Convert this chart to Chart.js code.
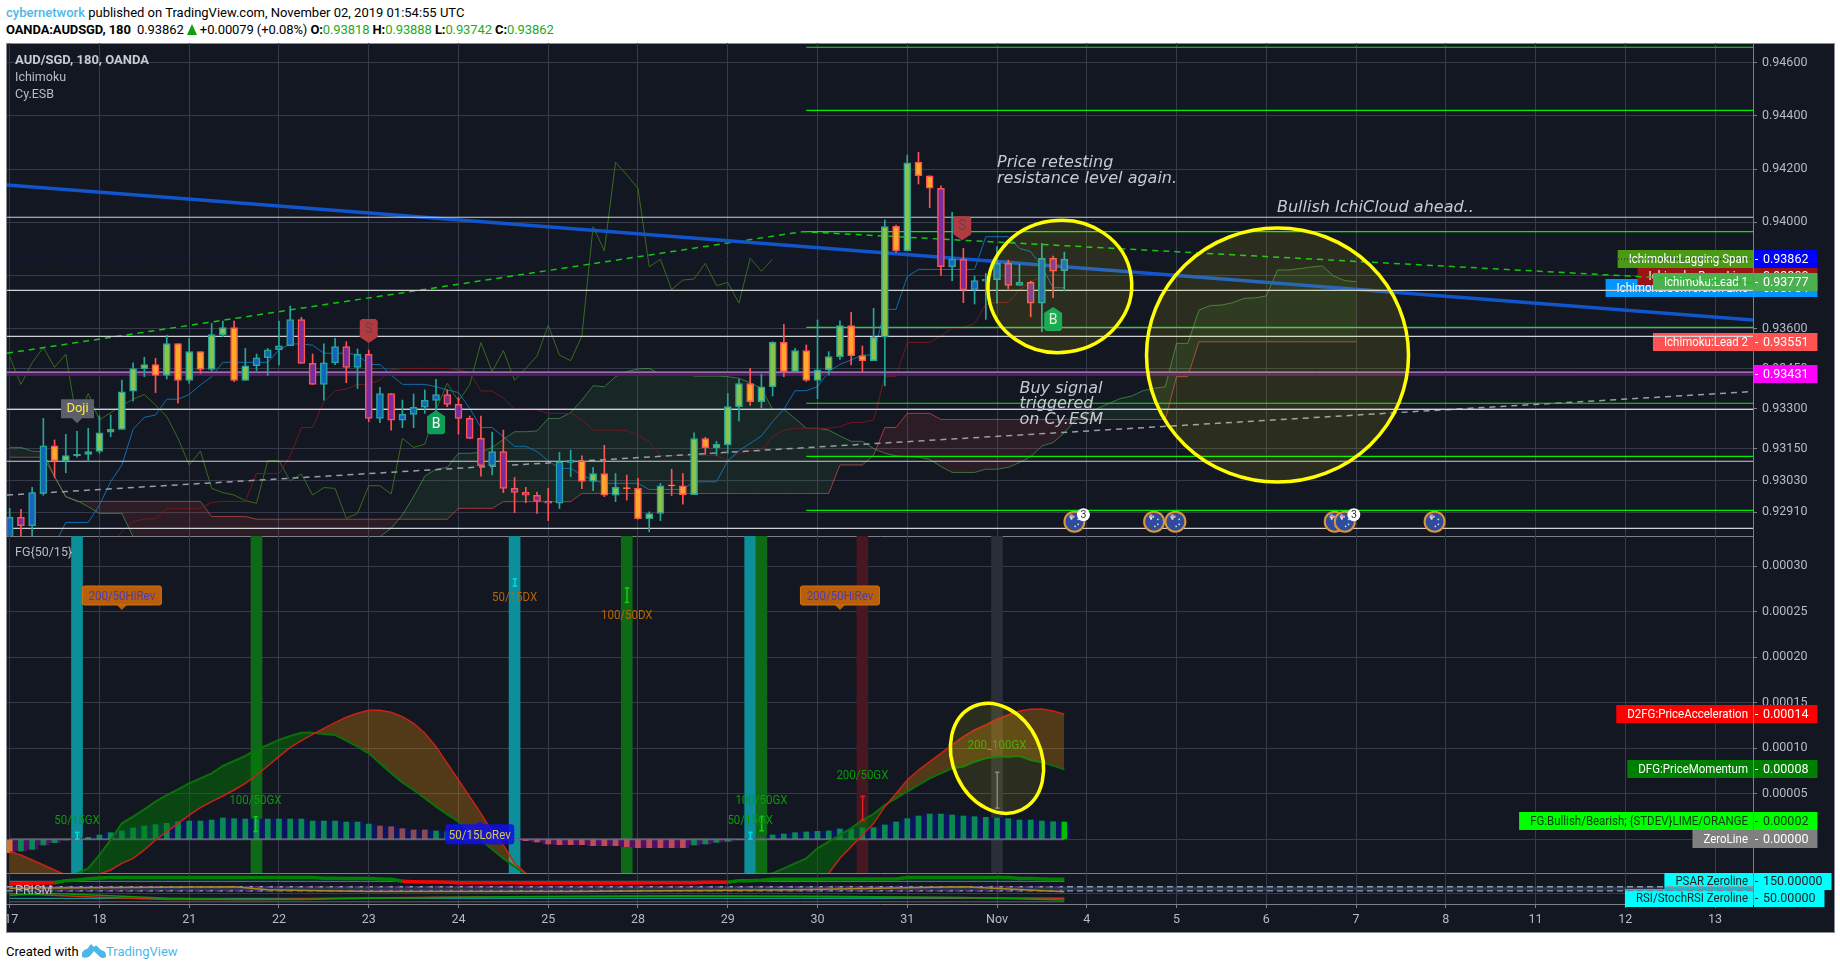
<!DOCTYPE html>
<html>
<head>
<meta charset="utf-8">
<title>AUD/SGD</title>
<script src="https://cdn.jsdelivr.net/npm/chart.js@4/dist/chart.umd.js"></script>
<style>
html, body { margin: 0; padding: 0; background: #fff; overflow: hidden; }
body { width: 1840px; height: 969px; position: relative; font-family: Roboto, sans-serif; color: #000; }
.line { position: absolute; left: 6px; font-size: 13px; white-space: nowrap; line-height: 16px; }
.blue { color: #4db8e8; }
.grn { color: #1faa1f; }
.up { display: inline-block; width: 0; height: 0; border-left: 5px solid transparent; border-right: 5px solid transparent; border-bottom: 11px solid #0fa00f; vertical-align: -1px; }
#frame { position: absolute; left: 6px; top: 43px; width: 1829px; height: 890px; box-sizing: border-box; background: #131722; border: 1px solid #8a8d96; }
canvas { position: absolute; left: 7px; }
#mainChart { top: 43px; }
#fgChart { top: 536px; }
#prismChart { top: 873px; }
#logo { position: absolute; left: 82px; top: 943px; }
</style>
</head>
<body>
<div class="line" style="top:5px"><span class="blue" style="font-weight:500">cybernetwork</span> published on TradingView.com, November 02, 2019 01:54:55 UTC</div>
<div class="line" style="top:22px; letter-spacing:-0.1px"><b>OANDA:AUDSGD, 180</b>&nbsp; 0.93862 <span class="up"></span> +0.00079 (+0.08%) <b>O:</b><span class="grn">0.93818</span> <b>H:</b><span class="grn">0.93888</span> <b>L:</b><span class="grn">0.93742</span> <b>C:</b><span class="grn">0.93862</span></div>
<div id="frame"></div>
<canvas id="mainChart" width="1827" height="494"></canvas>
<canvas id="fgChart" width="1827" height="338"></canvas>
<canvas id="prismChart" width="1827" height="59"></canvas>
<div class="line" style="top:944px">Created with</div>
<svg id="logo" width="24" height="16" viewBox="0 0 24 16"><path d="M0 14 L0 10 Q2 6 5 6 L9 1 L12 4 Q14 1 16 4 L19 7 Q24 8 24 12 L24 14 Q21 16 18 14 L12 8 L8 13 Q5 16 0 14 Z" fill="#4db8e8"/></svg>
<div class="line blue" style="top:944px; left:106px">TradingView</div>

<script>
// 3h bars, bar index on the x axis
var timeTicks = [0, 8, 16, 24, 32, 40, 48, 56, 64, 72, 80, 88, 96, 104, 112, 120, 128, 136, 144, 152]
var timeLabels = [' 17', '18', '21', '22', '23', '24', '25', '28', '29', '30', '31', 'Nov', '4', '5', '6', '7', '8', '11', '12', '13']

var priceTicks = [0.946, 0.944, 0.942, 0.94, 0.938, 0.936, 0.9345, 0.933, 0.9315, 0.9303, 0.9291]

// g, b = up candles, o, p = down candles
var candleKinds = ['b','p','b','b','o','g','g','g','g','g',
    'g','g','g','o','g','o','g','o','g','g',
    'o','g','b','b','b','b','p','p','b','b',
    'p','b','p','b','p','b','b','b','b','p',
    'p','p','p','b','p','p','p','p','p','b',
    'b','o','g','o','g','o','o','g','g','o',
    'o','g','o','g','g','g','o','g','g','o',
    'g','o','g','g','g','o','o','g','g','o',
    'g','o','o','p','b','p','b','b','b','p',
    'b','p','b','p','b']
var opens = [0.92793,0.92891,0.92860,0.92981,0.93160,0.93104,0.93123,0.93128,0.93139,0.93211,
    0.93222,0.93365,0.93450,0.93465,0.93425,0.93544,0.93406,0.93514,0.93447,0.93578,
    0.93604,0.93406,0.93461,0.93491,0.93521,0.93536,0.93634,0.93470,0.93391,0.93472,
    0.93533,0.93455,0.93504,0.93263,0.93356,0.93256,0.93278,0.93305,0.93331,0.93353,
    0.93316,0.93263,0.93188,0.93085,0.93138,0.93000,0.92985,0.92974,0.92951,0.92944,
    0.93098,0.93104,0.93026,0.93056,0.92974,0.93003,0.93000,0.92886,0.92906,0.93013,
    0.93010,0.92976,0.93187,0.93153,0.93164,0.93307,0.93394,0.93326,0.93382,0.93549,
    0.93439,0.93518,0.93406,0.93446,0.93495,0.93612,0.93499,0.93480,0.93568,0.93985,
    0.93893,0.94226,0.94175,0.94128,0.93833,0.93861,0.93746,0.93779,0.93784,0.93846,
    0.93763,0.93774,0.93696,0.93865,0.93818]
var highs = [0.92925,0.92921,0.93004,0.93263,0.93182,0.93203,0.93214,0.93226,0.93273,0.93276,
    0.93407,0.93472,0.93493,0.93489,0.93576,0.93544,0.93564,0.93514,0.93620,0.93629,
    0.93629,0.93526,0.93505,0.93526,0.93629,0.93685,0.93643,0.93505,0.93543,0.93564,
    0.93551,0.93524,0.93520,0.93380,0.93356,0.93332,0.93355,0.93370,0.93410,0.93370,
    0.93342,0.93272,0.93272,0.93212,0.93219,0.93041,0.93004,0.92986,0.93000,0.93135,
    0.93144,0.93122,0.93079,0.93162,0.93056,0.93050,0.93038,0.92912,0.93019,0.93072,
    0.93056,0.93209,0.93192,0.93177,0.93357,0.93410,0.93451,0.93429,0.93551,0.93617,
    0.93526,0.93539,0.93633,0.93514,0.93630,0.93662,0.93535,0.93677,0.94009,0.93990,
    0.94253,0.94263,0.94175,0.94137,0.94038,0.93902,0.93798,0.93808,0.93909,0.93858,
    0.93843,0.93779,0.93921,0.93873,0.93888]
var lows = [0.92770,0.92818,0.92818,0.92974,0.93041,0.93059,0.93117,0.93100,0.93132,0.93194,
    0.93222,0.93328,0.93420,0.93360,0.93411,0.93320,0.93395,0.93432,0.93442,0.93570,
    0.93401,0.93406,0.93442,0.93425,0.93464,0.93536,0.93470,0.93391,0.93332,0.93465,
    0.93397,0.93375,0.93251,0.93247,0.93219,0.93228,0.93228,0.93282,0.93282,0.93307,
    0.93204,0.93187,0.93046,0.93051,0.92984,0.92909,0.92946,0.92906,0.92879,0.92924,
    0.93044,0.92999,0.92991,0.92969,0.92950,0.92956,0.92884,0.92837,0.92879,0.92973,
    0.92941,0.92976,0.93128,0.93125,0.93132,0.93254,0.93312,0.93303,0.93347,0.93420,
    0.93439,0.93402,0.93337,0.93426,0.93485,0.93464,0.93437,0.93480,0.93385,0.93888,
    0.93893,0.94144,0.94055,0.93800,0.93781,0.93698,0.93693,0.93635,0.93696,0.93751,
    0.93763,0.93645,0.93589,0.93717,0.93742]
var closes = [0.92891,0.92860,0.92984,0.93160,0.93104,0.93123,0.93128,0.93138,0.93209,0.93222,
    0.93363,0.93450,0.93465,0.93425,0.93544,0.93406,0.93514,0.93447,0.93578,0.93604,
    0.93406,0.93461,0.93491,0.93521,0.93536,0.93634,0.93470,0.93391,0.93472,0.93533,
    0.93455,0.93504,0.93263,0.93356,0.93256,0.93278,0.93305,0.93331,0.93353,0.93316,
    0.93263,0.93188,0.93085,0.93138,0.93000,0.92985,0.92974,0.92951,0.92944,0.93100,
    0.93105,0.93026,0.93056,0.92974,0.93004,0.92999,0.92886,0.92905,0.93010,0.93009,
    0.92976,0.93187,0.93153,0.93166,0.93307,0.93394,0.93326,0.93382,0.93549,0.93439,
    0.93518,0.93406,0.93446,0.93495,0.93612,0.93499,0.93480,0.93568,0.93984,0.93893,
    0.94224,0.94175,0.94128,0.93833,0.93862,0.93746,0.93781,0.93786,0.93846,0.93763,
    0.93774,0.93696,0.93865,0.93816,0.93862]

var conversionLine = [null,null,null,0.92706,0.92787,0.92872,0.92872,0.92872,0.92937,0.93025,
    0.93088,0.93222,0.93267,0.93276,0.93335,0.93335,0.93353,0.93389,0.93420,0.93474,
    0.93474,0.93474,0.93474,0.93474,0.93520,0.93543,0.93543,0.93538,0.93508,0.93508,
    0.93508,0.93503,0.93466,0.93466,0.93426,0.93391,0.93391,0.93391,0.93382,0.93370,
    0.93360,0.93301,0.93229,0.93229,0.93194,0.93158,0.93158,0.93138,0.93104,0.93075,
    0.93075,0.93050,0.93031,0.93019,0.93019,0.93019,0.93019,0.92996,0.92996,0.92996,
    0.92996,0.93025,0.93025,0.93025,0.93104,0.93142,0.93169,0.93197,0.93251,0.93297,
    0.93367,0.93367,0.93382,0.93439,0.93466,0.93483,0.93501,0.93501,0.93673,0.93673,
    0.93796,0.93823,0.93823,0.93823,0.93823,0.93823,0.93823,0.93946,0.93946,0.93946,
    0.93902,0.93890,0.93833,0.93754,0.93754]
var baseLine = [null,null,null,null,null,null,null,null,null,0.92787,
    0.92837,0.92875,0.92885,0.92885,0.92925,0.92925,0.92925,0.92925,0.92947,0.92951,
    0.92951,0.92951,0.93056,0.93056,0.93056,0.93122,0.93229,0.93229,0.93326,0.93367,
    0.93373,0.93391,0.93391,0.93407,0.93445,0.93451,0.93451,0.93451,0.93451,0.93451,
    0.93445,0.93436,0.93366,0.93366,0.93338,0.93298,0.93298,0.93295,0.93282,0.93282,
    0.93282,0.93257,0.93219,0.93219,0.93219,0.93217,0.93201,0.93176,0.93123,0.93123,
    0.93123,0.93123,0.93123,0.93123,0.93104,0.93132,0.93142,0.93142,0.93194,0.93219,
    0.93226,0.93226,0.93226,0.93226,0.93232,0.93248,0.93248,0.93257,0.93420,0.93420,
    0.93548,0.93548,0.93548,0.93573,0.93602,0.93604,0.93620,0.93691,0.93699,0.93699,
    0.93746,0.93777,0.93796,0.93802,0.93800]
var laggingSpan = [0.93495,0.93391,0.93472,0.93530,0.93455,0.93504,0.93251,0.93357,0.93257,0.93285,
    0.93311,0.93335,0.93353,0.93313,0.93270,0.93188,0.93088,0.93140,0.93000,0.92984,
    0.92975,0.92954,0.92944,0.93104,0.93104,0.93028,0.93054,0.92975,0.93003,0.93000,
    0.92887,0.92906,0.93010,0.93010,0.92979,0.93188,0.93154,0.93166,0.93295,0.93395,
    0.93328,0.93389,0.93548,0.93439,0.93518,0.93406,0.93451,0.93498,0.93613,0.93501,
    0.93480,0.93573,0.93984,0.93893,0.94226,0.94178,0.94128,0.93833,0.93861,0.93748,
    0.93783,0.93787,0.93846,0.93762,0.93774,0.93696,0.93865,0.93816,0.93862]
var lead1 = [0.93154,0.93154,0.93140,0.93138,0.93044,0.92969,0.92954,0.92931,0.92906,0.92906,
    0.92906,0.92818,0.92750,0.92718,0.92693,0.92681,0.92681,0.92668,0.92668,0.92668,
    0.92668,0.92668,0.92668,0.92668,0.92681,0.92681,0.92681,0.92687,0.92693,0.92706,
    0.92718,0.92737,0.92762,0.92818,0.92850,0.92900,0.92969,0.93046,0.93072,0.93079,
    0.93132,0.93132,0.93135,0.93154,0.93184,0.93213,0.93213,0.93216,0.93263,0.93263,
    0.93285,0.93332,0.93386,0.93382,0.93420,0.93439,0.93449,0.93451,0.93430,0.93435,
    0.93435,0.93422,0.93422,0.93422,0.93420,0.93414,0.93397,0.93376,0.93297,0.93297,
    0.93263,0.93226,0.93226,0.93219,0.93197,0.93177,0.93177,0.93150,0.93132,0.93122,
    0.93119,0.93117,0.93109,0.93082,0.93060,0.93060,0.93060,0.93072,0.93072,0.93079,
    0.93097,0.93119,0.93159,0.93172,0.93209,0.93257,0.93280,0.93301,0.93320,0.93338,
    0.93347,0.93367,0.93376,0.93382,0.93545,0.93545,0.93670,0.93687,0.93689,0.93698,
    0.93714,0.93716,0.93723,0.93821,0.93821,0.93826,0.93832,0.93836,0.93798,0.93781,
    0.93777]
var lead2 = [0.93117,0.93117,0.93117,0.93117,0.93044,0.92969,0.92951,0.92951,0.92951,0.92951,
    0.92951,0.92951,0.92951,0.92951,0.92951,0.92951,0.92951,0.92951,0.92894,0.92894,
    0.92894,0.92894,0.92884,0.92884,0.92884,0.92884,0.92884,0.92884,0.92884,0.92884,
    0.92884,0.92884,0.92884,0.92884,0.92884,0.92884,0.92884,0.92884,0.92884,0.92884,
    0.92925,0.92925,0.92925,0.92925,0.92950,0.92950,0.92950,0.92950,0.92950,0.92950,
    0.92950,0.92981,0.92981,0.92981,0.92981,0.92981,0.92981,0.92981,0.92981,0.92981,
    0.92981,0.92981,0.92981,0.92981,0.92981,0.92981,0.92981,0.92981,0.92981,0.92981,
    0.92981,0.92981,0.92981,0.92981,0.93088,0.93088,0.93088,0.93125,0.93229,0.93229,
    0.93282,0.93282,0.93282,0.93259,0.93259,0.93259,0.93259,0.93259,0.93259,0.93259,
    0.93259,0.93259,0.93259,0.93259,0.93259,0.93259,0.93259,0.93259,0.93259,0.93259,
    0.93259,0.93259,0.93259,0.93259,0.93420,0.93420,0.93551,0.93551,0.93551,0.93551,
    0.93551,0.93551,0.93551,0.93551,0.93551,0.93551,0.93551,0.93551,0.93551,0.93551,
    0.93551]

// drawings on the price pane, two ends each (bar index, price)
var blueTrendX = [-0.24, 155.38]
var blueTrendY = [0.94140, 0.93633]
var greenDashX = [-0.24, 70.66, 155.38]
var greenDashY = [0.93508, 0.93965, 0.93773]
var greyDashX = [-0.24, 155.0]
var greyDashY = [0.92975, 0.93363]
var whiteLevels = [0.94019, 0.93744, 0.93571, 0.93297, 0.93102, 0.92850]
var greenLevels = [0.94658, 0.94421, 0.93965, 0.93605, 0.93320, 0.93120, 0.92917]
var greenLevelsFrom = 71
var magentaLevel = 0.93431
var lastPrice = 0.93862

// FG pane, all values in units of 0.00001
var fgTicks = [30, 25, 20, 15, 10, 5, 0]
var fgTickLabels = ['0.00030', '0.00025', '0.00020', '0.00015', '0.00010', '0.00005', '0.00000']
var fgHist = [-1.47,-1.28,-1.10,-0.62,-0.37,-0.07,0.02,0.22,0.48,0.73,
    0.92,1.25,1.47,1.61,1.76,1.94,2.01,2.01,2.12,2.34,
    2.27,2.23,2.23,2.23,2.23,2.23,2.23,2.01,2.01,2.01,
    1.90,1.90,1.68,1.47,1.39,1.17,1.03,1.03,0.92,0.84,
    0.73,0.66,0.48,0.29,0.11,0.02,-0.15,-0.29,-0.51,-0.59,
    -0.59,-0.59,-0.70,-0.70,-0.70,-0.81,-0.92,-0.92,-0.92,-0.92,
    -0.92,-0.62,-0.51,-0.33,-0.22,-0.02,0.02,0.07,0.48,0.59,
    0.73,0.81,0.88,0.92,1.14,1.14,1.25,1.28,1.58,1.90,
    2.27,2.56,2.78,2.78,2.67,2.56,2.49,2.42,2.34,2.27,
    2.12,2.12,2.01,1.94,1.90]
var fgHistFalling = [33, 34, 35, 36, 37, 46, 47, 48, 49, 50, 51, 52, 53, 54, 55, 56, 57, 58, 59, 60]
var dfg = [-4.5,-5,-5.5,-5.5,-5.2,-4.5,-3.74,-3.19,-1.72,-0.07,
    1.76,2.49,3.30,4.14,4.87,5.49,6.15,6.7,7.25,8.06,
    8.61,9.16,9.89,10.37,10.92,11.36,11.72,11.72,11.58,11.47,
    10.84,10.18,9.45,8.35,7.25,6.26,5.42,4.51,3.59,2.75,
    1.94,0.92,-0.07,-1.10,-2.09,-3.0,-3.81,-4.5,-5,-5.5,
    -6,-6.3,-6.5,-6.7,-6.8,-6.8,-6.7,-6.5,-6.3,-6,
    -5.7,-5.4,-5.1,-4.8,-4.5,-4.2,-4,-3.9,-3.74,-3.19,
    -2.64,-2.09,-0.99,-0.26,0.48,1.21,2.12,2.78,3.77,4.51,
    5.24,5.97,6.7,7.25,7.8,7.99,8.53,8.9,9.08,9.08,
    9.16,8.72,8.46,8.1,7.69]
var d2fg = [-1.36,-1.72,-2.27,-2.82,-3.37,-3.92,-4.29,-4.29,-3.81,-3.37,
    -2.64,-2.09,-1.17,-0.07,0.84,1.76,2.67,3.48,4.14,4.76,
    5.42,6.15,7.07,8.06,9.08,10.11,10.84,11.54,12.2,12.82,
    13.41,13.85,14.18,14.18,13.96,13.48,12.75,11.65,10.18,8.35,
    6.52,4.69,2.86,0.84,-0.62,-2.64,-3.74,-5,-6,-7,
    -8,-8.5,-9,-9.5,-10,-10,-10.5,-10.5,-10.5,-10,
    -10,-9.5,-9,-8.5,-8,-7.5,-7,-6.5,-6,-5.5,
    -5,-4.5,-4,-3.74,-2.09,-0.81,0.48,1.76,3.59,5.05,
    6.52,7.62,8.53,9.45,10.37,11.28,12.01,12.56,13.19,13.66,
    14.1,14.29,14.32,14.1,13.74]

// cross signals shown as full height columns in the FG pane
var signalBars = [6, 22, 45, 55, 66, 67, 76, 88]
var signalKinds = ['teal', 'green', 'teal', 'green', 'teal', 'green', 'red', 'grey']
var markerBars = [6, 21.9, 45, 55, 66, 67, 76, 88]
var markerLows = [0, 0.84, 27.8, 26.0, 0, 0.92, 2.05, 3.4]
var markerHighs = [0.84, 2.56, 28.7, 27.7, 0.84, 2.56, 4.8, 7.44]
var markerKinds = ['teal', 'green', 'teal', 'green', 'teal', 'green', 'red', 'grey']

// PRISM pane
var psar = [134,136,138,140,142,154,158,165,170,172,
    172,172,172,172,172,172,172,172,172,172,
    172,172,172,172,172,172,172,172,168,168,
    166,166,166,164,162,150,148,146,146,144,
    142,142,142,142,142,142,140,140,140,140,
    140,140,140,140,140,140,140,142,142,142,
    142,142,144,144,144,154,154,156,162,162,
    162,162,162,164,164,164,164,164,164,164,
    172,172,172,172,172,172,172,172,172,172,
    166,166,164,162,162]
var psarRedFrom = [0, 35]
var psarRedTo = [4, 64]
var prismLevels = [150, 50]
var prismDashLevels = [118, 95]
var prismTick = [80]
var prismOrangeX = [0, 10, 20, 23, 32, 50, 70, 85, 94]
var prismOrangeY = [110, 114, 118, 100, 90, 90, 100, 118, 89]
var prismRedX = [0, 8, 14, 23, 29, 44, 60, 80, 94]
var prismRedY = [79, 56, 44, 44, 50, 60, 65, 55, 50]
var prismGreenX = [0, 4, 8, 14, 20, 26, 32, 44, 60, 72, 85, 94]
var prismGreenY = [69, 79, 69, 50, 44, 44, 50, 59, 62, 62, 55, 40]
var prismGreyLevel = 30

var candleFill = { g: '#8bc34a', b: '#1565c0', o: '#ffa726', p: '#7b2d9b' }
var candleLine = { g: '#26a69a', b: '#26a69a', o: '#ff5252', p: '#ff5252' }
var signalFill = { teal: '#0c8f99', green: '#0f6a18', red: '#471821', grey: '#2a2e39' }
var markerFill = { teal: '#00d8e0', green: '#10d010', red: '#e02020', grey: '#787b86' }

var GRID = '#363a4a'
var AXIS = '#7d8087'
var TICK_TEXT = '#b8bbc4'
var FONT = 'Roboto, sans-serif'
var X_MIN = -0.24
var X_MAX = 155.38

function pts(values) {
    return values.map(function (v, i) { return { x: i, y: v } })
}

function pairs(xs, ys) {
    return xs.map(function (x, i) { return { x: x, y: ys[i] } })
}

function xAxis(showLabels) {
    return {
        type: 'linear',
        min: X_MIN,
        max: X_MAX,
        offset: false,
        afterBuildTicks: function (axis) {
            axis.ticks = timeTicks.map(function (v) { return { value: v } })
        },
        afterFit: function (axis) {
            axis.paddingLeft = 0
            axis.paddingRight = 0
            axis.height = showLabels ? 28 : 0
        },
        grid: { color: GRID, offset: false, drawTicks: showLabels, tickLength: 4, tickColor: AXIS },
        border: { display: true, color: AXIS },
        ticks: {
            display: showLabels,
            autoSkip: false,
            maxRotation: 0,
            minRotation: 0,
            padding: 4,
            color: TICK_TEXT,
            font: { family: FONT, size: 12.5 },
            callback: function (v) { return timeLabels[timeTicks.indexOf(v)] }
        }
    }
}

function yAxis(min, max, tickList, labelFn, showLabels) {
    return {
        position: 'right',
        min: min,
        max: max,
        afterBuildTicks: function (axis) {
            axis.ticks = tickList.map(function (v) { return { value: v } })
        },
        afterFit: function (axis) {
            axis.width = 81
            axis.paddingTop = 0
            axis.paddingBottom = 0
        },
        grid: { color: GRID, tickLength: 4, tickColor: AXIS },
        border: { display: true, color: AXIS },
        ticks: {
            display: showLabels,
            autoSkip: false,
            padding: 5,
            color: TICK_TEXT,
            font: { family: FONT, size: 12.5 },
            callback: labelFn
        }
    }
}

function baseOptions(bottomPad, xShow, yCfg) {
    return {
        responsive: false,
        animation: false,
        devicePixelRatio: 1,
        layout: { padding: { left: 0, right: 0, top: 0, bottom: bottomPad } },
        plugins: { legend: { display: false }, tooltip: { enabled: false } },
        elements: { point: { radius: 0 }, line: { tension: 0 } },
        scales: { x: xAxis(xShow), y: yCfg }
    }
}

function lineSet(data, color, width, order, extra) {
    var d = { type: 'line', data: data, borderColor: color, borderWidth: width, pointRadius: 0, fill: false, order: order }
    for (var k in extra) d[k] = extra[k]
    return d
}

// site font is narrower than Roboto, so squeeze the text a bit
function narrowText(ctx, text, x, y, squeeze) {
    ctx.fillText(text, x, y, ctx.measureText(text).width * (squeeze || 0.85))
}

// right side name + value tags, drawn under the lines like on the site
function drawTag(chart, value, name, valueText, bg, fg, valueBg) {
    var ctx = chart.ctx
    var right = chart.chartArea.right
    var y = Math.round(chart.scales.y.getPixelForValue(value))
    ctx.save()
    ctx.textBaseline = 'middle'
    if (name) {
        ctx.font = '13.5px ' + FONT
        var w = ctx.measureText(name).width * 0.85
        ctx.fillStyle = bg
        ctx.fillRect(right - w - 16, y - 9, w + 16, 18)
        ctx.fillStyle = fg
        ctx.textAlign = 'right'
        narrowText(ctx, name, right - 5, y + 1)
    }
    ctx.font = '12.5px ' + FONT
    var vw = ctx.measureText(valueText).width
    ctx.fillStyle = valueBg || bg
    ctx.fillRect(right + 1, y - 9, vw + 18, 18)
    ctx.fillStyle = fg
    ctx.fillRect(right + 2, y, 3, 1)
    ctx.textAlign = 'left'
    ctx.fillText(valueText, right + 10, y + 1)
    ctx.restore()
}

function paneText(ctx, text, x, y, font, color) {
    ctx.save()
    ctx.font = font
    ctx.fillStyle = color
    ctx.textBaseline = 'middle'
    ctx.textAlign = 'left'
    ctx.fillText(text, x, y)
    ctx.restore()
}

function note(chart, text, bar, price) {
    var ctx = chart.ctx
    ctx.save()
    ctx.font = 'italic 16px "DejaVu Sans", sans-serif'
    ctx.fillStyle = '#c6cad1'
    ctx.textBaseline = 'alphabetic'
    ctx.fillText(text, chart.scales.x.getPixelForValue(bar), chart.scales.y.getPixelForValue(price))
    ctx.restore()
}

function ellipse(chart, bar, val, rx, ry, rot) {
    var ctx = chart.ctx
    ctx.save()
    ctx.beginPath()
    ctx.ellipse(chart.scales.x.getPixelForValue(bar), chart.scales.y.getPixelForValue(val), rx, ry, rot * Math.PI / 180, 0, Math.PI * 2)
    ctx.fillStyle = 'rgba(255,255,0,0.1)'
    ctx.fill()
    ctx.lineWidth = 3.5
    ctx.strokeStyle = '#ffff00'
    ctx.stroke()
    ctx.restore()
}

// S / B shields, dir 1 points down at the anchor, -1 points up
function shield(chart, bar, price, dir, color, letter, letterColor) {
    var ctx = chart.ctx
    var x = chart.scales.x.getPixelForValue(bar)
    var y = chart.scales.y.getPixelForValue(price)
    ctx.save()
    ctx.beginPath()
    ctx.moveTo(x, y)
    ctx.lineTo(x + 9, y - dir * 6)
    ctx.lineTo(x + 9, y - dir * 22)
    ctx.lineTo(x + 7, y - dir * 24)
    ctx.lineTo(x - 7, y - dir * 24)
    ctx.lineTo(x - 9, y - dir * 22)
    ctx.lineTo(x - 9, y - dir * 6)
    ctx.closePath()
    ctx.fillStyle = color
    ctx.fill()
    ctx.font = '14px ' + FONT
    ctx.fillStyle = letterColor
    ctx.textAlign = 'center'
    ctx.textBaseline = 'middle'
    ctx.fillText(letter, x, y - dir * 14)
    ctx.restore()
}

function doji(chart, bar, price) {
    var ctx = chart.ctx
    var x = chart.scales.x.getPixelForValue(bar)
    var y = chart.scales.y.getPixelForValue(price)
    ctx.save()
    ctx.fillStyle = '#5d606b'
    ctx.beginPath()
    ctx.moveTo(x, y)
    ctx.lineTo(x + 5, y - 5)
    ctx.lineTo(x + 17, y - 5)
    ctx.lineTo(x + 17, y - 24)
    ctx.lineTo(x - 16, y - 24)
    ctx.lineTo(x - 16, y - 5)
    ctx.lineTo(x - 5, y - 5)
    ctx.closePath()
    ctx.fill()
    ctx.font = '13px ' + FONT
    ctx.fillStyle = '#ffeb3b'
    ctx.textAlign = 'center'
    ctx.textBaseline = 'middle'
    ctx.fillText('Doji', x + 0.5, y - 14)
    ctx.restore()
}

function eventIcon(chart, bar, price, count) {
    var ctx = chart.ctx
    var x = chart.scales.x.getPixelForValue(bar)
    var y = chart.scales.y.getPixelForValue(price)
    ctx.save()
    ctx.beginPath()
    ctx.arc(x, y, 10, 0, Math.PI * 2)
    ctx.fillStyle = '#2f4c9c'
    ctx.fill()
    ctx.lineWidth = 2
    ctx.strokeStyle = '#d9963a'
    ctx.stroke()
    ctx.fillStyle = '#e8dfe8'
    ctx.fillRect(x - 5, y - 6, 5, 2)
    ctx.fillRect(x - 4, y - 7, 2, 5)
    ctx.fillStyle = '#d84a55'
    ctx.fillRect(x - 4, y - 6, 3, 1)
    ctx.fillStyle = '#e8dfe8'
    ctx.fillRect(x + 3, y + 2, 1.5, 1.5)
    ctx.fillRect(x, y + 4, 1.5, 1.5)
    ctx.fillRect(x + 3, y - 3, 1.5, 1.5)
    if (count) {
        ctx.beginPath()
        ctx.arc(x + 9, y - 7, 6.5, 0, Math.PI * 2)
        ctx.fillStyle = '#fff'
        ctx.fill()
        ctx.font = '10.5px ' + FONT
        ctx.fillStyle = '#333'
        ctx.textAlign = 'center'
        ctx.textBaseline = 'middle'
        ctx.fillText(count, x + 9, y - 6.5)
    }
    ctx.restore()
}

function bubble(chart, text, bar, val, dir, w, bg, border, fg) {
    // anchor is the tip of the little arrow, box sits on the far side of it
    var ctx = chart.ctx
    var x = chart.scales.x.getPixelForValue(bar)
    var y = chart.scales.y.getPixelForValue(val)
    var h = 19
    var top = dir > 0 ? y - 5 - h : y + 3
    ctx.save()
    ctx.fillStyle = bg
    ctx.beginPath()
    ctx.moveTo(x, y)
    ctx.lineTo(x + 5, dir > 0 ? top + h : top)
    ctx.lineTo(x - 5, dir > 0 ? top + h : top)
    ctx.closePath()
    ctx.fill()
    ctx.beginPath()
    ctx.roundRect(x - w / 2, top, w, h, 2)
    ctx.fill()
    ctx.lineWidth = 1
    ctx.strokeStyle = border
    ctx.stroke()
    ctx.font = '13.5px ' + FONT
    ctx.fillStyle = fg
    ctx.textAlign = 'center'
    ctx.textBaseline = 'middle'
    narrowText(ctx, text, x, top + h / 2 + 1)
    ctx.restore()
}

function signalText(chart, text, bar, val, color) {
    var ctx = chart.ctx
    ctx.save()
    ctx.font = '13.5px ' + FONT
    ctx.fillStyle = color
    ctx.textAlign = 'center'
    ctx.textBaseline = 'middle'
    narrowText(ctx, text, chart.scales.x.getPixelForValue(bar), chart.scales.y.getPixelForValue(val))
    ctx.restore()
}

var candleBars = opens.map(function (o, i) { return { x: i, y: [o, closes[i]] } })
var wickBars = highs.map(function (h, i) { return { x: i, y: [lows[i], h] } })

var mainSets = [
    // cloud first, index 0 and 1 are used by the fill
    lineSet(pts(lead1), 'rgba(76,175,80,0.6)', 1, 20, {
        fill: { target: 1, above: 'rgba(76,175,80,0.1)', below: 'rgba(255,82,82,0.1)' }
    }),
    lineSet(pts(lead2), 'rgba(255,82,82,0.6)', 1, 21),
    lineSet(pts(laggingSpan), '#3a6b1f', 1, 18),
    lineSet(pts(baseLine), '#701a1f', 1, 17),
    lineSet(pts(conversionLine), '#0f6fb0', 1, 16),
    // candles sit on top of the drawings
    {
        type: 'bar', data: wickBars, barThickness: 1, grouped: false, order: 2,
        backgroundColor: candleKinds.map(function (k) { return candleLine[k] })
    },
    {
        type: 'bar', data: candleBars, barThickness: 7, grouped: false, order: 1, borderSkipped: false,
        borderWidth: 1.5,
        borderColor: candleKinds.map(function (k) { return candleLine[k] }),
        backgroundColor: candleKinds.map(function (k) { return candleFill[k] })
    },
    lineSet(pairs([X_MIN, X_MAX], [lastPrice, lastPrice]), '#13137a', 1, 9, { borderDash: [1, 2] }),
    lineSet(pairs(greyDashX, greyDashY), '#9a9da5', 1.5, 8, { borderDash: [6, 5] }),
    lineSet(pairs(greenDashX, greenDashY), '#0fc80f', 1.5, 8, { borderDash: [6, 5] }),
    lineSet(pairs(blueTrendX, blueTrendY), '#1155cc', 3.5, 7),
    lineSet(pairs([X_MIN, X_MAX], [magentaLevel, magentaLevel]), '#4f1a66', 4.5, 7),
    lineSet(pairs([X_MIN, X_MAX], [magentaLevel + 0.00006, magentaLevel + 0.00006]), '#d0a8d6', 1, 6)
]
whiteLevels.forEach(function (v) {
    mainSets.push(lineSet(pairs([X_MIN, X_MAX], [v, v]), '#d0d2d6', 1.2, 6))
})
greenLevels.forEach(function (v) {
    mainSets.push(lineSet(pairs([greenLevelsFrom, X_MAX], [v, v]), '#00f000', 1.2, 6))
})

var mainPlugin = {
    id: 'mainDrawings',
    beforeDatasetsDraw: function (chart) {
        drawTag(chart, 0.93754, 'Ichimoku:Conversion Line', '0.93754', '#0496ff', '#fff')
        drawTag(chart, 0.93800, 'Ichimoku:Base Line', '0.93800', '#991515', '#fff')
        drawTag(chart, 0.93862, 'Ichimoku:Lagging Span', '0.93862', '#4a9a14', '#fff', '#0000ff')
        drawTag(chart, 0.93551, 'Ichimoku:Lead 2', '0.93551', '#ff5252', '#fff')
        drawTag(chart, 0.93777, 'Ichimoku:Lead 1', '0.93777', '#4caf50', '#fff')
        drawTag(chart, 0.93431, null, '0.93431', '#ff00ff', '#fff')
    },
    afterDatasetsDraw: function (chart) {
        var ctx = chart.ctx
        paneText(ctx, 'AUD/SGD, 180, OANDA', 8, 18, 'bold 13px ' + FONT, '#c5cbce')
        paneText(ctx, 'Ichimoku', 8, 35, '12.5px ' + FONT, '#b8bbc4')
        paneText(ctx, 'Cy.ESB', 8, 52, '12.5px ' + FONT, '#b8bbc4')

        ellipse(chart, 93.6, 0.93759, 72, 66, -8)
        ellipse(chart, 113, 0.93501, 131, 127, 0)

        note(chart, 'Price retesting', 88, 0.94209)
        note(chart, 'resistance level again.', 88, 0.94148)
        note(chart, 'Bullish IchiCloud ahead..', 112.95, 0.94039)
        note(chart, 'Buy signal', 90, 0.9336)
        note(chart, 'triggered', 90, 0.93302)
        note(chart, 'on Cy.ESM', 90, 0.93241)

        shield(chart, 32, 0.93546, 1, '#b23b3f', 'S', '#6b4150')
        shield(chart, 84.9, 0.93933, 1, '#b23b3f', 'S', '#6b4150')
        shield(chart, 38, 0.93294, -1, '#0f9d58', 'B', '#fff')
        shield(chart, 93, 0.93682, -1, '#1bab55', 'B', '#e8f5d8')
        doji(chart, 6, 0.93245)

        eventIcon(chart, 94.9, 0.92875, '3')
        eventIcon(chart, 102, 0.92875)
        eventIcon(chart, 103.9, 0.92875)
        eventIcon(chart, 118.1, 0.92875)
        eventIcon(chart, 119, 0.92875, '3')
        eventIcon(chart, 127, 0.92875)
    }
}

new Chart(document.getElementById('mainChart'), {
    type: 'line',
    data: { datasets: mainSets },
    options: baseOptions(1, false, yAxis(0.92821, 0.94674, priceTicks, function (v) { return v.toFixed(5) }, true)),
    plugins: [mainPlugin]
})

var signalData = signalBars.map(function (b) { return { x: b, y: [-3.7, 33.3] } })
var histData = fgHist.map(function (v, i) { return { x: i, y: v } })

var fgPlugin = {
    id: 'fgDrawings',
    beforeDatasetsDraw: function (chart) {
        drawTag(chart, 13.74, 'D2FG:PriceAcceleration', '0.00014', '#ff0000', '#fff')
        drawTag(chart, 7.69, 'DFG:PriceMomentum', '0.00008', '#008000', '#fff')
        drawTag(chart, 2.04, 'FG:Bullish/Bearish; {STDEV}LIME/ORANGE', '0.00002', '#00ff00', '#0a3a0a')
        drawTag(chart, 0, 'ZeroLine', '0.00000', '#808080', '#fff')
    },
    afterDatasetsDraw: function (chart) {
        var ctx = chart.ctx
        paneText(ctx, 'FG{50/15}', 8, 17, '12.5px ' + FONT, '#b8bbc4')

        markerBars.forEach(function (b, i) {
            var x = chart.scales.x.getPixelForValue(b)
            var y0 = chart.scales.y.getPixelForValue(markerLows[i])
            var y1 = chart.scales.y.getPixelForValue(markerHighs[i])
            ctx.fillStyle = markerFill[markerKinds[i]]
            ctx.fillRect(x - 0.5, y1, 1.5, y0 - y1)
            ctx.fillRect(x - 2, y1, 4.5, 1.5)
            ctx.fillRect(x - 2, y0 - 1, 4.5, 1.5)
        })

        signalText(chart, '50/15DX', 45, 26.6, '#b8640c')
        signalText(chart, '100/50DX', 55, 24.6, '#b8640c')
        signalText(chart, '50/15GX', 6, 2.04, '#0a9a0a')
        signalText(chart, '100/50GX', 21.9, 4.24, '#0a9a0a')
        signalText(chart, '50/15GX', 66, 2.04, '#0a9a0a')
        signalText(chart, '100/50GX', 67, 4.24, '#0a9a0a')
        signalText(chart, '200/50GX', 76, 7, '#0a9a0a')
        signalText(chart, '200_100GX', 88, 10.3, '#3ca010')

        bubble(chart, '200/50HiRev', 10, 25.2, 1, 79, '#b85f0e', '#d6700f', '#4b3bb5')
        bubble(chart, '200/50HiRev', 74, 25.2, 1, 79, '#b85f0e', '#d6700f', '#4b3bb5')
        bubble(chart, '50/15LoRev', 41.9, 1.92, -1, 68, 'rgba(16,16,235,0.85)', 'rgba(16,16,235,0.85)', '#d8c54a')

        ellipse(chart, 88, 8.9, 44, 57, -25)
    }
}

var fgSets = [
    lineSet(pts(dfg), '#0a700a', 2, 2, {
        fill: { target: 1, above: 'rgba(0,128,0,0.45)', below: 'rgba(255,152,0,0.27)' }
    }),
    lineSet(pts(d2fg), '#cc2015', 1.5, 1),
    lineSet(pairs([0, 94], [0, 0]), 'rgba(120,123,134,0.7)', 2, 5),
    {
        type: 'bar', data: histData, barThickness: 5, grouped: false, order: 6,
        backgroundColor: fgHist.map(function (v, i) {
            if (i == 94) return '#00c000'
            if (i == 0) return '#d8722a'
            if (fgHistFalling.indexOf(i) >= 0) return v < 0 ? '#c04a56' : '#8a4a50'
            return '#0a8a50'
        })
    },
    {
        type: 'bar', data: histData, barThickness: 11.3, grouped: false, order: 7,
        backgroundColor: fgHist.map(function (v) { return v < 0 ? '#4a1466' : '#0d1560' })
    },
    {
        type: 'bar', data: signalData, barThickness: 11, grouped: false, order: 8, borderSkipped: false,
        backgroundColor: signalKinds.map(function (k) { return signalFill[k] })
    }
]

new Chart(document.getElementById('fgChart'), {
    type: 'line',
    data: { datasets: fgSets },
    options: baseOptions(1, false, yAxis(-3.7, 33.33, fgTicks, function (v) { return fgTickLabels[fgTicks.indexOf(v)] }, true)),
    plugins: [fgPlugin]
})

function psarIsRed(i) {
    for (var k = 0; k < psarRedFrom.length; k++) {
        if (i >= psarRedFrom[k] && i < psarRedTo[k]) return true
    }
    return false
}

var prismPlugin = {
    id: 'prismDrawings',
    beforeDatasetsDraw: function (chart) {
        drawTag(chart, 150, 'PSAR Zeroline', '150.00000', '#00ffff', '#222')
        drawTag(chart, 50, 'RSI/StochRSI Zeroline', '50.00000', '#00ffff', '#222')
    },
    afterDatasetsDraw: function (chart) {
        paneText(chart.ctx, 'PRISM', 8, 18, '12.5px ' + FONT, '#b8bbc4')
    }
}

var prismSets = [
    lineSet(pairs([X_MIN, X_MAX], [prismDashLevels[0], prismDashLevels[0]]), '#8d9aa5', 1.5, 8, {
        borderDash: [6, 4], fill: { target: 1, above: 'rgba(70,90,130,0.45)', below: 'rgba(70,90,130,0.45)' }
    }),
    lineSet(pairs([X_MIN, X_MAX], [prismDashLevels[1], prismDashLevels[1]]), '#8d9aa5', 1.5, 8, { borderDash: [6, 4] }),
    lineSet(pairs([0, 94], [prismDashLevels[0], prismDashLevels[0]]), '#5a2a80', 1.5, 7, { borderDash: [5, 5], borderDashOffset: 5 }),
    lineSet(pairs([0, 94], [prismDashLevels[1], prismDashLevels[1]]), '#5a2a80', 1.5, 7, { borderDash: [5, 5], borderDashOffset: 5 }),
    lineSet(pairs([0, 94], [prismGreyLevel, prismGreyLevel]), '#5c5f69', 1, 6),
    lineSet(pairs([0, 94], [prismLevels[0], prismLevels[0]]), '#1fa0a0', 1, 5),
    lineSet(pairs([0, 94], [prismLevels[1], prismLevels[1]]), '#1fa0a0', 1, 5),
    lineSet(pairs(prismOrangeX, prismOrangeY), '#a88a20', 1.5, 4),
    lineSet(pairs(prismRedX, prismRedY), '#c83018', 1.5, 3),
    lineSet(pairs(prismGreenX, prismGreenY), '#0a9a0a', 1.5, 2),
    lineSet(pts(psar), '#008000', 3.5, 1, {
        segment: {
            borderColor: function (c) { return psarIsRed(c.p0DataIndex) ? '#ff0000' : '#008000' }
        }
    })
]

new Chart(document.getElementById('prismChart'), {
    type: 'line',
    data: { datasets: prismSets },
    options: baseOptions(0, true, yAxis(17, 198.8, prismTick, function () { return '' }, false)),
    plugins: [prismPlugin]
})
</script>
</body>
</html>
